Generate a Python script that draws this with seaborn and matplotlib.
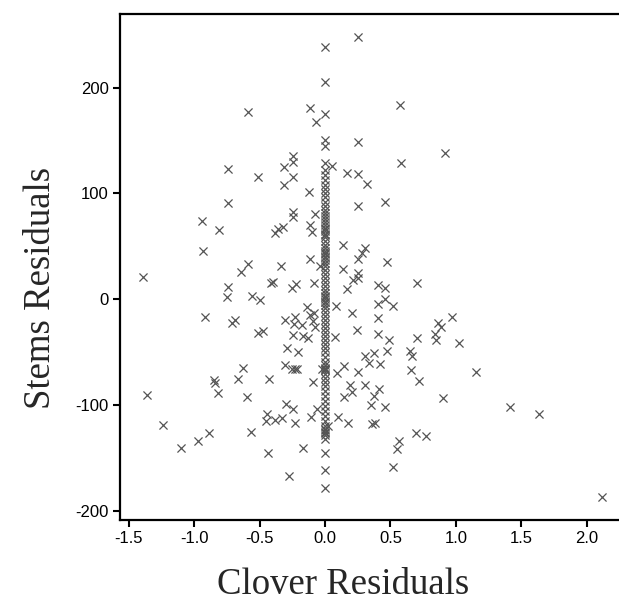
import matplotlib
matplotlib.use("Agg")
import matplotlib.pyplot as plt
import seaborn as sns
import pandas as pd

# Points whose clover residual is exactly zero (the vertical column)
column_stems = [238.5, 205.4, 174.9, 150.3, 144.6, 128.3, 121.9, 117.2, 112.5, 107.8,
                104.0, 100.2, 96.4, 91.7, 87.9, 84.1, 81.3, 78.4, 75.6, 72.8, 69.9,
                67.1, 66.0, 64.3, 61.4, 61.0, 58.6, 54.8, 51.0, 48.2, 45.4, 44.0, 42.5,
                40.0, 39.7, 36.9, 34.0, 31.2, 27.4, 23.6, 19.8, 16.1, 12.3, 8.5, 5.7,
                2.8, 2.0, 0.0, -2.8, -3.0, -5.7, -8.5, -12.3, -16.1, -19.8, -23.6,
                -27.4, -31.2, -35.0, -38.8, -42.5, -46.3, -50.1, -54.8, -59.5, -62.4,
                -65.2, -66.0, -67.1, -67.5, -70.9, -74.7, -78.4, -82.2, -86.9, -91.7,
                -96.4, -101.1, -105.9, -110.6, -115.3, -120.0, -122.9, -124.0, -125.7,
                -127.0, -128.5, -132.3, -145.3, -161.6, -178.4]

# Remaining points: clover residuals and stems residuals
clover_x = [-0.59, -0.115, -0.066, 0.25, 0.573, 0.25, 0.917, 0.581, -0.242, -0.245,
            -0.311, -0.739, -0.51, -0.247, -0.311, -0.12, -0.739, 0.05, 0.17, 0.25,
            0.319, 0.25, 0.459,
            -0.247, -0.242, -0.076, -0.938, -0.81, -0.382, -0.357, -0.319, -0.115,
            -0.102, -0.93,
            -0.642, -0.586, -0.339, -0.115, -0.035, -1.389, -0.739, -0.752, -0.56,
            -0.5, -0.413, -0.40, -0.219, -0.25, -0.083,
            0.135, 0.306, 0.28, 0.25, 0.471, 0.14, 0.25, 0.216, 0.252, 0.17, 0.701,
            0.408, 0.459, 0.087, 0.403, 0.459, 0.522, 0.204, 0.403, 0.973, 0.866,
            0.887, 0.838, 0.242, 0.073, 0.408, 0.487, 0.701, 0.848, 1.022,
            -0.917, -0.709, -0.69, -0.515, -0.472,
            -0.135, -0.115, -0.084, -0.306, -0.229, -0.235, -0.178, -0.089, -0.076,
            -0.247, -0.166, -0.131, -0.293, -0.21,
            -0.306, -0.255, -0.229, -0.212, -0.02,
            -1.363, -1.236, -1.103, -0.973, -0.887, -0.846, -0.841, -0.82, -0.663,
            -0.629, -0.599, -0.568, -0.426, -0.443, -0.452, -0.38, -0.331, -0.433,
            -0.299, -0.245, -0.229, -0.171, -0.275, -0.089, -0.107, -0.064,
            0.306, 0.375, 0.339, 0.423, 0.477, 0.647, 0.665, 0.146, 0.094, 0.255,
            0.656, 0.716, 0.191, 0.306, 0.21, 0.146, 0.414, 0.376, 0.35, 0.459,
            0.902, 0.096, 0.172, 0.358, 0.382, 0.695, 0.771, 0.563, 0.548, 0.517,
            1.152, 1.414, 1.636, 2.115, 0.02]
stems_y = [177, 181, 167.6, 248, 183.4, 148.7, 137.7, 128.3, 135, 130,
           124.5, 122.6, 115.5, 115, 107.8, 101.4, 90.4, 126, 118.8, 118,
           108.7, 87.9, 92,
           82.5, 77.8, 80, 74, 65.2, 62.7, 65.9, 67.8, 70,
           63.6, 45.7,
           25.8, 33.1, 31.2, 37.5, 31, 21.1, 11.1, 1.6, 2.5,
           -1.2, 15.4, 16.5, 14.5, 10.1, 15.4,
           51, 47.9, 43.8, 37.5, 35.3, 28.4, 24.3, 18, 19.6, 9.2, 14.8,
           13.2, 10.1, -6.6, -4.7, -0.3, -6.6, -13.5, -18.2, -17.3, -22.4,
           -26.2, -32.6, -29.3, -35.6, -33, -38.8, -37.2, -38.8, -41.3,
           -17.3, -22.4, -19.8, -31.8, -30.2,
           -7.5, -15, -13.5, -20.2, -17, -23.6, -24.6, -20.5, -26.2,
           -34, -34.5, -36.5, -46.6, -49.8,
           -62.8, -66.4, -66.4, -66.4, -66,
           -90.7, -119.1, -140.5, -134.2, -126.4, -76.6, -79.7, -89.1, -75.9,
           -65.5, -92.3, -125.4, -75.9, -108.8, -115.5, -114, -112.3, -145.3,
           -98.9, -103.8, -117.5, -141.1, -167.3, -78.1, -111.8, -104.3,
           -53.9, -50.7, -60.2, -61.4, -48.9, -49.3, -53.4, -63.3, -70, -68.7,
           -66.8, -77.3, -81, -81, -87.6, -92.9, -85.3, -91.7, -99.7, -102.4,
           -93.6, -111.2, -117.5, -118.1, -116.9, -126.4, -129.5, -133.9, -141.5, -159,
           -69.3, -102.4, -108.7, -186.9, -120]

x_ticks = [-1.5, -1.0, -0.5, 0.0, 0.5, 1.0, 1.5, 2.0]
y_ticks = [-200, -100, 0, 100, 200]

df = pd.DataFrame({
    "clover": [0.0] * len(column_stems) + clover_x,
    "stems": column_stems + stems_y,
})

sns.set_style("ticks")
plt.rcParams["font.family"] = ["Liberation Sans", "DejaVu Sans"]

fig = plt.figure(figsize=(6.19, 6.11), dpi=100)
ax = fig.add_axes([0.1934, 0.1489, 1 - 0.1934, 0.828])

sns.scatterplot(data=df, x="clover", y="stems", marker="x", color="#555555",
                s=34, linewidth=0.9, ax=ax)

ax.set_xlim(-1.5696, 2.2477)
ax.set_ylim(-208.9, 269.4)
ax.set_xticks(x_ticks)
ax.set_xticklabels([f"{t:.1f}" for t in x_ticks])
ax.set_yticks(y_ticks)
ax.set_yticklabels([str(t) for t in y_ticks])
ax.tick_params(axis="both", labelsize=12, length=5, width=1.5, color="black",
               labelcolor="black", pad=3, direction="out")

for side in ["left", "bottom", "top"]:
    ax.spines[side].set_linewidth(1.6)
    ax.spines[side].set_color("black")
ax.spines["right"].set_visible(False)

ax.set_xlabel("Clover Residuals", family=["Liberation Serif"], fontsize=26.5)
ax.set_ylabel("Stems Residuals", family=["Liberation Serif"], fontsize=26.5)
ax.xaxis.label.set_va("center")
ax.yaxis.label.set_va("center")
ax.xaxis.set_label_coords((343 - 119.7) / 499.3, (520 - 585) / 506)
ax.yaxis.set_label_coords((41 - 119.7) / 499.3, (520 - 288) / 506)

fig.savefig("out.png", dpi=100)
